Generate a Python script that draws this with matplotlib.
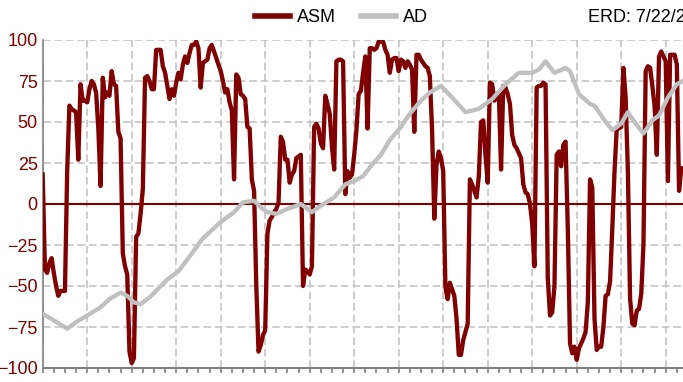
import numpy as np
import matplotlib
matplotlib.use("Agg")
import matplotlib.pyplot as plt
from matplotlib.lines import Line2D

plt.rcParams['font.family'] = ['Liberation Sans', 'DejaVu Sans']

# daily ASM readings (day 0 at the left edge)
asm = [18, -40, -42, -36, -33, -42, -50, -56, -53, -53,
       -53, 20, 60, 58, 57, 56, 27, 73, 63, 63,
       62, 70, 75, 73, 68, 46, 11, 77, 65, 68,
       66, 81, 73, 72, 44, 40, -30, -38, -43, -90,
       -97, -94, -20, -18, -6, 9, 77, 78, 75, 70,
       70, 94, 94, 94, 84, 80, 72, 64, 70, 66,
       74, 80, 76, 85, 90, 86, 92, 97, 97, 99,
       95, 71, 86, 87, 88, 95, 97, 93, 89, 85,
       81, 75, 68, 70, 62, 57, 15, 79, 77, 67,
       66, 64, 47, 46, 15, 8, -50, -90, -86, -80,
       -77, -18, -10, -8, -5, -3, 1, 41, 38, 27,
       27, 13, 18, 20, 28, 29, 30, -50, -40, -41,
       -43, -38, 47, 49, 46, 37, 34, 66, 61, 55,
       35, 21, 87, 88, 88, 87, 6, 20, 16, 18,
       30, 45, 67, 69, 80, 90, 46, 95, 95, 94,
       95, 99, 99, 99, 94, 91, 80, 88, 89, 89,
       81, 88, 87, 83, 87, 85, 82, 44, 91, 91,
       88, 86, 84, 83, 78, 45, -9, 24, 32, 28,
       20, -51, -58, -48, -52, -56, -70, -92, -92, -83,
       -78, -73, 15, 12, 8, 4, 17, 50, 51, 30,
       13, 74, 73, 63, 65, 68, 21, 72, 71, 67,
       61, 42, 36, 34, 31, 28, 12, 7, 6, 0,
       -12, -38, 71, 72, 72, 74, 73, -45, -68, -66,
       -50, 30, 32, 23, 36, 38, -15, -85, -91, -87,
       -95, -88, -85, -82, -78, -60, 15, 10, -70, -89,
       -87, -87, -75, -56, -55, -47, -15, 20, 46, 46,
       47, 83, 65, 20, -58, -73, -74, -65, -64, -55,
       -25, 81, 84, 83, 72, 60, 30, 90, 93, 90,
       87, 14, 91, 91, 91, 85, 8, 22, 21, 21]
asm_day = np.arange(len(asm))

# AD curve, read at its turning points
ad_day = [0, 5, 11, 15, 20, 26, 30, 35, 38, 41, 44, 48, 56, 61, 66,
          72, 80, 86, 90, 95, 98, 101, 105, 110, 116, 121, 125, 131, 136, 140,
          144, 148, 152, 156, 161, 165, 170, 174, 179, 184, 190, 196, 202, 208, 214,
          220, 223, 226, 230, 235, 237, 241, 246, 248, 252, 256, 260, 263, 266, 270,
          274, 277, 281, 285, 289]
ad_val = [-67, -71, -76, -72, -68, -63, -58, -54, -56, -60, -61, -57, -46, -41, -32,
          -21, -11, -5, 1, 2, -2, -5, -6, -3, 0, -5, -1, 4, 12, 14,
          17, 24, 30, 39, 47, 55, 63, 68, 72, 65, 56, 58, 64, 73, 80,
          80, 82, 87, 80, 83, 81, 67, 61, 60, 52, 45, 49, 56, 50, 43,
          51, 54, 65, 73, 76]

yticks = [-100, -75, -50, -25, 0, 25, 50, 75, 100]
erd_text = "ERD: 7/22/2024"

red = '#800000'
gray = '#c0c0c0'

fig = plt.figure(figsize=(6.83, 3.82), dpi=100)
ax = fig.add_axes([42.7/683, 14/382, 667.5/683, 328/382])

ax.axhline(0, color=red, lw=1.5, zorder=2)
ax.plot(asm_day, asm, color=red, lw=3.1, zorder=3)
ax.plot(ad_day, ad_val, color=gray, lw=3.1, zorder=4)

ax.set_xlim(0, 300)
ax.set_ylim(-100, 100)
ax.set_yticks(yticks)
ax.set_xticks(np.arange(0, 301, 20))
ax.set_xticks(np.arange(0, 301, 5), minor=True)
ax.set_xticklabels([])

ax.grid(True, which='major', color=gray, ls=(0, (5, 2.5)), lw=1.1, zorder=0)
ax.tick_params(axis='y', length=0, pad=3.5, labelcolor=red, labelsize=13)
ax.tick_params(axis='x', which='both', length=3.5, width=1.2, color='#808080', direction='out')

for s in ['top', 'right']:
    ax.spines[s].set_visible(False)
ax.spines['left'].set_color('#808080')
ax.spines['left'].set_linewidth(1.2)
ax.spines['bottom'].set_color('#808080')
ax.spines['bottom'].set_linewidth(1.5)

handles = [Line2D([], [], color=red, lw=4), Line2D([], [], color=gray, lw=4)]
fig.legend(handles, ['ASM', 'AD'], loc='center', bbox_to_anchor=(0.5, 0.953), ncol=2,
           frameon=False, fontsize=13, handlelength=1.94, handletextpad=0.39,
           columnspacing=1.39)
fig.text(588/683, 0.953, erd_text, va='center', ha='left', fontsize=13)

fig.savefig('out.png', dpi=100)
